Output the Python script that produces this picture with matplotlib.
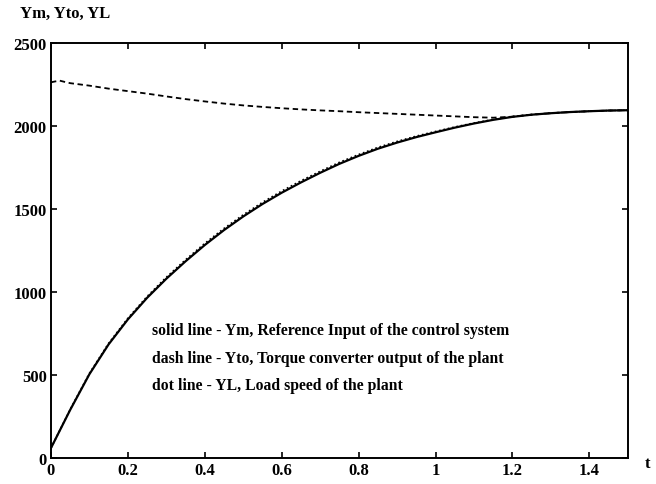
import matplotlib
matplotlib.use("Agg")
import matplotlib.pyplot as plt

t = [0.0, 0.05, 0.1, 0.15, 0.2, 0.25, 0.3, 0.35, 0.4, 0.45, 0.5, 0.55, 0.6,
     0.65, 0.7, 0.75, 0.8, 0.85, 0.9, 0.95, 1.0, 1.05, 1.1, 1.15, 1.2, 1.25,
     1.3, 1.35, 1.4, 1.45, 1.5]
ym = [60, 290, 505, 685, 835, 965, 1080, 1185, 1283, 1373, 1455, 1530, 1598,
      1660, 1718, 1772, 1820, 1863, 1900, 1933, 1962, 1990, 2015, 2037, 2055,
      2068, 2077, 2084, 2089, 2093, 2095]
yl = [60, 293, 510, 691, 842, 973, 1089, 1194, 1293, 1383, 1465, 1540, 1608,
      1670, 1727, 1781, 1828, 1871, 1907, 1939, 1967, 1994, 2018, 2039, 2057,
      2069, 2078, 2084, 2089, 2093, 2095]
t_dash = [0.0, 0.01, 0.023, 0.035, 0.05, 0.1, 0.15, 0.2, 0.25, 0.3, 0.35, 0.4,
          0.45, 0.5, 0.55, 0.6, 0.65, 0.7, 0.75, 0.8, 0.85, 0.9, 0.95, 1.0,
          1.05, 1.1, 1.15, 1.2, 1.25, 1.3, 1.35, 1.4, 1.45, 1.5]
yto = [2263, 2268, 2273, 2266, 2258, 2243, 2225, 2210, 2195, 2178, 2162, 2148,
       2135, 2124, 2115, 2107, 2100, 2094, 2089, 2083, 2078, 2073, 2068, 2063,
       2058, 2053, 2050, 2056, 2068, 2077, 2084, 2089, 2093, 2095]

xticks = [0, 0.2, 0.4, 0.6, 0.8, 1, 1.2, 1.4]
xticklabels = ["0", "0.2", "0.4", "0.6", "0.8", "1", "1.2", "1.4"]
yticks = [0, 500, 1000, 1500, 2000, 2500]

notes = ["solid line - Ym, Reference Input of the control system",
         "dash line - Yto, Torque converter output of the plant",
         "dot line - YL, Load speed of the plant"]
note_y = [771, 602, 440]

plt.rcParams['font.family'] = ['Liberation Serif', 'DejaVu Serif']

fig = plt.figure(figsize=(6.56, 4.85), dpi=100)
ax = fig.add_axes([0.0777, 0.0536, 0.8793, 0.8557])

ax.plot(t, ym, '-', color='black', lw=1.6)
ax.plot(t, yl, ':', color='black', lw=1.2)
ax.plot(t_dash, yto, '--', color='black', lw=1.3, dashes=(3, 2))

ax.set_xlim(0, 1.5)
ax.set_ylim(0, 2500)
ax.set_xticks(xticks)
ax.set_xticklabels(xticklabels)
ax.set_yticks(yticks)
ax.tick_params(direction='in', top=True, right=True, length=4, width=1.2,
               labelsize=12, pad=3)
for lab in ax.get_xticklabels() + ax.get_yticklabels():
    lab.set_fontweight('bold')
for s in ax.spines.values():
    s.set_linewidth(1.4)

for n, yv in zip(notes, note_y):
    ax.text(0.262, yv, n, fontsize=11.3, fontweight='bold',
            va='center', ha='left')

fig.text(20 / 656, 1 - 14 / 485, "Ym, Yto, YL", fontsize=12, fontweight='bold',
         va='center', ha='left')
fig.text(645 / 656, 1 - 464 / 485, "t", fontsize=12, fontweight='bold',
         va='center', ha='left')

fig.savefig("out.png", dpi=100)
